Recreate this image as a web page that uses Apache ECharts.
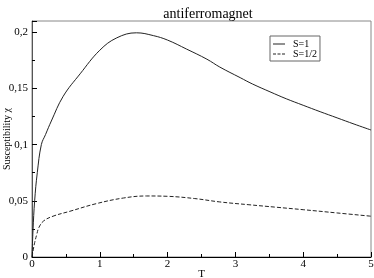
<!DOCTYPE html>
<html>
<head>
<meta charset="utf-8">
<script src="https://cdn.jsdelivr.net/npm/echarts@6/dist/echarts.min.js"></script>
<style>
html,body{margin:0;padding:0;background:#fff;}
#c{width:374px;height:278px;}
</style>
</head>
<body>
<div id="c"></div>
<script>
const titleText = 'antiferromagnet';
const xName = 'T';
const yName = 'Susceptibility \u03c7';
const seriesNames = ['S=1', 'S=1/2'];
const tS1 = [0, 0.015, 0.039, 0.078, 0.138, 0.2, 0.285, 0.46, 0.71, 1.0, 1.25, 1.54, 1.79, 2.0, 2.28, 2.58, 2.77, 3.07, 3.25, 3.51, 3.75, 4.0, 4.25, 4.5, 4.75, 5.0];
const chiS1 = [0, 0.024, 0.05, 0.075, 0.1, 0.109, 0.121, 0.143, 0.163, 0.184, 0.195, 0.1995, 0.197, 0.193, 0.185, 0.176, 0.169, 0.1596, 0.154, 0.147, 0.1408, 0.135, 0.1293, 0.1238, 0.1183, 0.113];
const tS12 = [0, 0.02, 0.04, 0.07, 0.1, 0.17, 0.31, 0.56, 0.95, 1.35, 1.69, 2.0, 2.4, 2.77, 3.2, 3.6, 4.0, 4.5, 5.0];
const chiS12 = [0, 0.007, 0.013, 0.02, 0.026, 0.032, 0.0363, 0.0407, 0.0475, 0.0525, 0.0543, 0.054, 0.052, 0.049, 0.0465, 0.0443, 0.0421, 0.0392, 0.0363];

const font = 'Liberation Serif';
const legendIcons = ['path://M0,0h12v1h-12z', 'path://M0,0h3v1h-3zM4.5,0h3v1h-3zM9,0h3v1h-3z'];
const chart = echarts.init(document.getElementById('c'), null, {renderer: 'canvas'});
function fmt(v){ return String(Math.round(v*1000)/1000).replace('.', ','); }
chart.setOption({
  animation: false,
  backgroundColor: '#fff',
  textStyle: {fontFamily: font},
  title: {text: titleText, left: 203, top: 2, textAlign: 'center',
    textStyle: {fontFamily: font, fontSize: 14, fontWeight: 'normal', color: '#000'}},
  grid: {left: 32, right: 3, top: 21, bottom: 21, containLabel: false, outerBoundsMode: 'none',
    show: true, borderColor: '#888', borderWidth: 1, backgroundColor: 'transparent'},
  legend: {
    left: 270, top: 36, orient: 'vertical', itemGap: 0, itemWidth: 12, itemHeight: 1,
    padding: [3, 3, 2, 3], borderColor: '#666', borderWidth: 1,
    itemStyle: {color: '#222', borderWidth: 0},
    textStyle: {fontFamily: font, fontSize: 10, color: '#000', lineHeight: 10, padding: [0, 0, 0, 3]},
    data: seriesNames.map((n, i) => ({name: n, icon: legendIcons[i]}))
  },
  xAxis: {
    type: 'value', min: 0, max: 5, interval: 1,
    name: xName, nameLocation: 'middle', nameGap: 12, nameMoveOverlap: false,
    nameTextStyle: {fontFamily: font, fontSize: 11, color: '#000'},
    axisLine: {lineStyle: {color: '#000', width: 1}},
    axisTick: {inside: true, length: 5, lineStyle: {color: '#000'}},
    minorTick: {show: true, splitNumber: 2, length: 3, lineStyle: {color: '#000'}},
    axisLabel: {fontFamily: font, fontSize: 11, color: '#000', margin: 2},
    splitLine: {show: false}
  },
  yAxis: {
    type: 'value', min: 0, max: 0.21, interval: 0.05,
    name: yName, nameLocation: 'middle', nameGap: 20, nameRotate: 90, nameMoveOverlap: false,
    nameTextStyle: {fontFamily: font, fontSize: 10, color: '#000'},
    axisLine: {lineStyle: {color: '#555', width: 1}},
    axisTick: {inside: true, length: 5, lineStyle: {color: '#000'}},
    minorTick: {show: true, splitNumber: 2, length: 3, lineStyle: {color: '#000'}},
    axisLabel: {fontFamily: font, fontSize: 11, color: '#000', margin: 4, showMaxLabel: false, formatter: fmt},
    splitLine: {show: false}
  },
  series: [
    {name: seriesNames[0], type: 'line', data: tS1.map((t, i) => [t, chiS1[i]]),
     showSymbol: false, symbol: 'none', smooth: 0.4,
     lineStyle: {color: '#222', width: 1, type: 'solid'}, itemStyle: {color: '#222'}},
    {name: seriesNames[1], type: 'line', data: tS12.map((t, i) => [t, chiS12[i]]),
     showSymbol: false, symbol: 'none', smooth: 0.4,
     lineStyle: {color: '#222', width: 1, type: [4, 2]}, itemStyle: {color: '#222'}}
  ]
});
</script>
</body>
</html>
